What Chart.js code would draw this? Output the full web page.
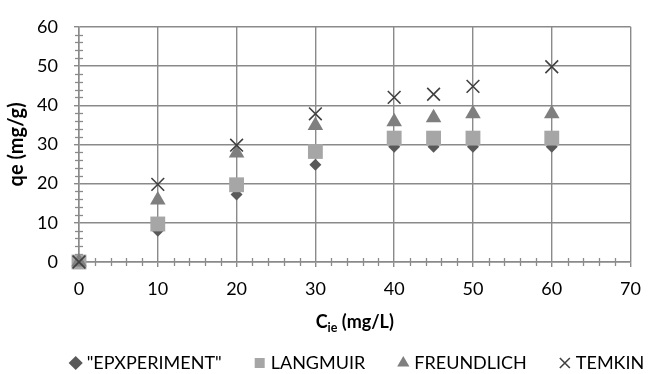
<!DOCTYPE html>
<html><head><meta charset="utf-8">
<script src="https://cdn.jsdelivr.net/npm/chart.js@4"></script>
<style>html,body{margin:0;padding:0;background:#fff}#w{width:652px;height:374px}</style>
</head><body><div id="w"><canvas id="c"></canvas></div>
<script>
const xValues = [0, 10, 20, 30, 40, 45, 50, 60];
const experiment = [0, 8, 17.2, 24.8, 29.4, 29.4, 29.4, 29.4];
const langmuir = [0, 9.7, 19.7, 28.2, 31.6, 31.6, 31.6, 31.6];
const freundlich = [0, 15.8, 27.8, 34.8, 35.8, 36.8, 37.8, 37.8];
const temkin = [0, 19.8, 29.8, 37.8, 42, 42.8, 44.8, 49.8];
const seriesNames = ['"EPXPERIMENT"', 'LANGMUIR', 'FREUNDLICH', 'TEMKIN'];
const xTickLabels = [0, 10, 20, 30, 40, 50, 60, 70];
const yTickLabels = [0, 10, 20, 30, 40, 50, 60];

const FONT = 'Lato';
const GRID = '#8a8a8a';
const pts = arr => xValues.map((x, i) => ({x, y: arr[i]}));

const minorTicks = {
  id: 'minorTicks',
  beforeDatasetsDraw(chart) {
    const {ctx, scales: {x, y}} = chart;
    ctx.save();
    ctx.strokeStyle = GRID; ctx.lineWidth = 1.3;
    const y0 = y.getPixelForValue(0), x0 = x.getPixelForValue(0);
    for (let v = 0; v <= 70; v += 2) {
      if (v % 10 === 0) continue;
      const px = Math.round(x.getPixelForValue(v)) + 0.5;
      ctx.beginPath(); ctx.moveTo(px, y0 - 4); ctx.lineTo(px, y0 + 4); ctx.stroke();
    }
    for (let v = 0; v <= 60; v += 2) {
      if (v % 10 === 0) continue;
      const py = Math.round(y.getPixelForValue(v)) + 0.5;
      ctx.beginPath(); ctx.moveTo(x0 - 4, py); ctx.lineTo(x0 + 4, py); ctx.stroke();
    }
    ctx.restore();
  }
};
const xTitle = {
  id: 'xTitle',
  afterDraw(chart) {
    const {ctx, scales: {x}} = chart;
    ctx.save();
    ctx.fillStyle = '#000';
    ctx.textBaseline = 'alphabetic';
    const big = 'bold 18px ' + FONT, small = 'bold 12.5px ' + FONT;
    ctx.font = big; const wC = ctx.measureText('C').width; const wR = ctx.measureText(' (mg/L)').width;
    ctx.font = small; const wS = ctx.measureText('ie').width;
    const total = wC + wS + wR;
    const cx = (x.left + x.right) / 2;
    let sx = cx - total / 2; const by = 328;
    ctx.font = big; ctx.fillText('C', sx, by); sx += wC;
    ctx.font = small; ctx.fillText('ie', sx, by + 4); sx += wS;
    ctx.font = big; ctx.fillText(' (mg/L)', sx, by);
    ctx.restore();
  }
};
const legendShift = {
  id: 'legendShift',
  afterLayout(chart) {
    const lg = chart.legend;
    const dx = 33, dy = 8;
    lg.left += dx; lg.right += dx; lg.top += dy; lg.bottom += dy;
  }
};

new Chart(document.getElementById('c'), {
  type: 'scatter',
  data: {
    datasets: [
      {label: seriesNames[0], data: pts(experiment), pointStyle: 'rectRot', pointRadius: 6, backgroundColor: '#595959', borderColor: '#595959', borderWidth: 0, order: 4},
      {label: seriesNames[1], data: pts(langmuir), pointStyle: 'rect', pointRadius: 10.5, backgroundColor: '#a6a6a6', borderColor: '#a6a6a6', borderWidth: 0, order: 3},
      {label: seriesNames[2], data: pts(freundlich), pointStyle: 'triangle', pointRadius: 9, backgroundColor: '#7f7f7f', borderColor: '#7f7f7f', borderWidth: 0, order: 2},
      {label: seriesNames[3], data: pts(temkin), pointStyle: 'crossRot', pointRadius: 9, backgroundColor: '#404040', borderColor: '#404040', borderWidth: 1.6, order: 1}
    ]
  },
  options: {
    responsive: true, maintainAspectRatio: false, animation: false,
    clip: false,
    layout: {padding: {left: 0, right: 0, top: 20, bottom: 0}},
    elements: {point: {hoverRadius: 0}},
    plugins: {
      tooltip: {enabled: false},
      legend: {
        position: 'bottom',
        labels: {
          usePointStyle: true, boxWidth: 4, boxHeight: 10, padding: 36,
          color: '#000', font: {family: FONT, size: 18},
          sort: (a, b) => a.datasetIndex - b.datasetIndex
        }
      }
    },
    scales: {
      x: {
        type: 'linear', min: 0, max: 70,
        afterBuildTicks: s => { s.ticks = xTickLabels.map(v => ({value: v})); },
        ticks: {color: '#000', font: {family: FONT, size: 18}, padding: 11, autoSkip: false},
        grid: {color: GRID, lineWidth: 1.4, tickLength: 5, tickColor: GRID},
        border: {color: GRID, width: 1.5},
        afterFit: s => { s.height = 48; }
      },
      y: {
        min: 0, max: 60,
        afterBuildTicks: s => { s.ticks = yTickLabels.map(v => ({value: v})); },
        ticks: {color: '#000', font: {family: FONT, size: 18}, padding: 16},
        grid: {color: GRID, lineWidth: 1.4, tickLength: 5, tickColor: GRID},
        border: {color: GRID, width: 1.5},
        title: {display: true, text: 'qe (mg/g)', color: '#000', font: {family: FONT, size: 20, weight: 'bold'}, padding: {top: 5, bottom: 0}},
        afterFit: s => { s.width = 79; }
      }
    }
  },
  plugins: [minorTicks, xTitle, legendShift]
});
</script>
</body></html>
